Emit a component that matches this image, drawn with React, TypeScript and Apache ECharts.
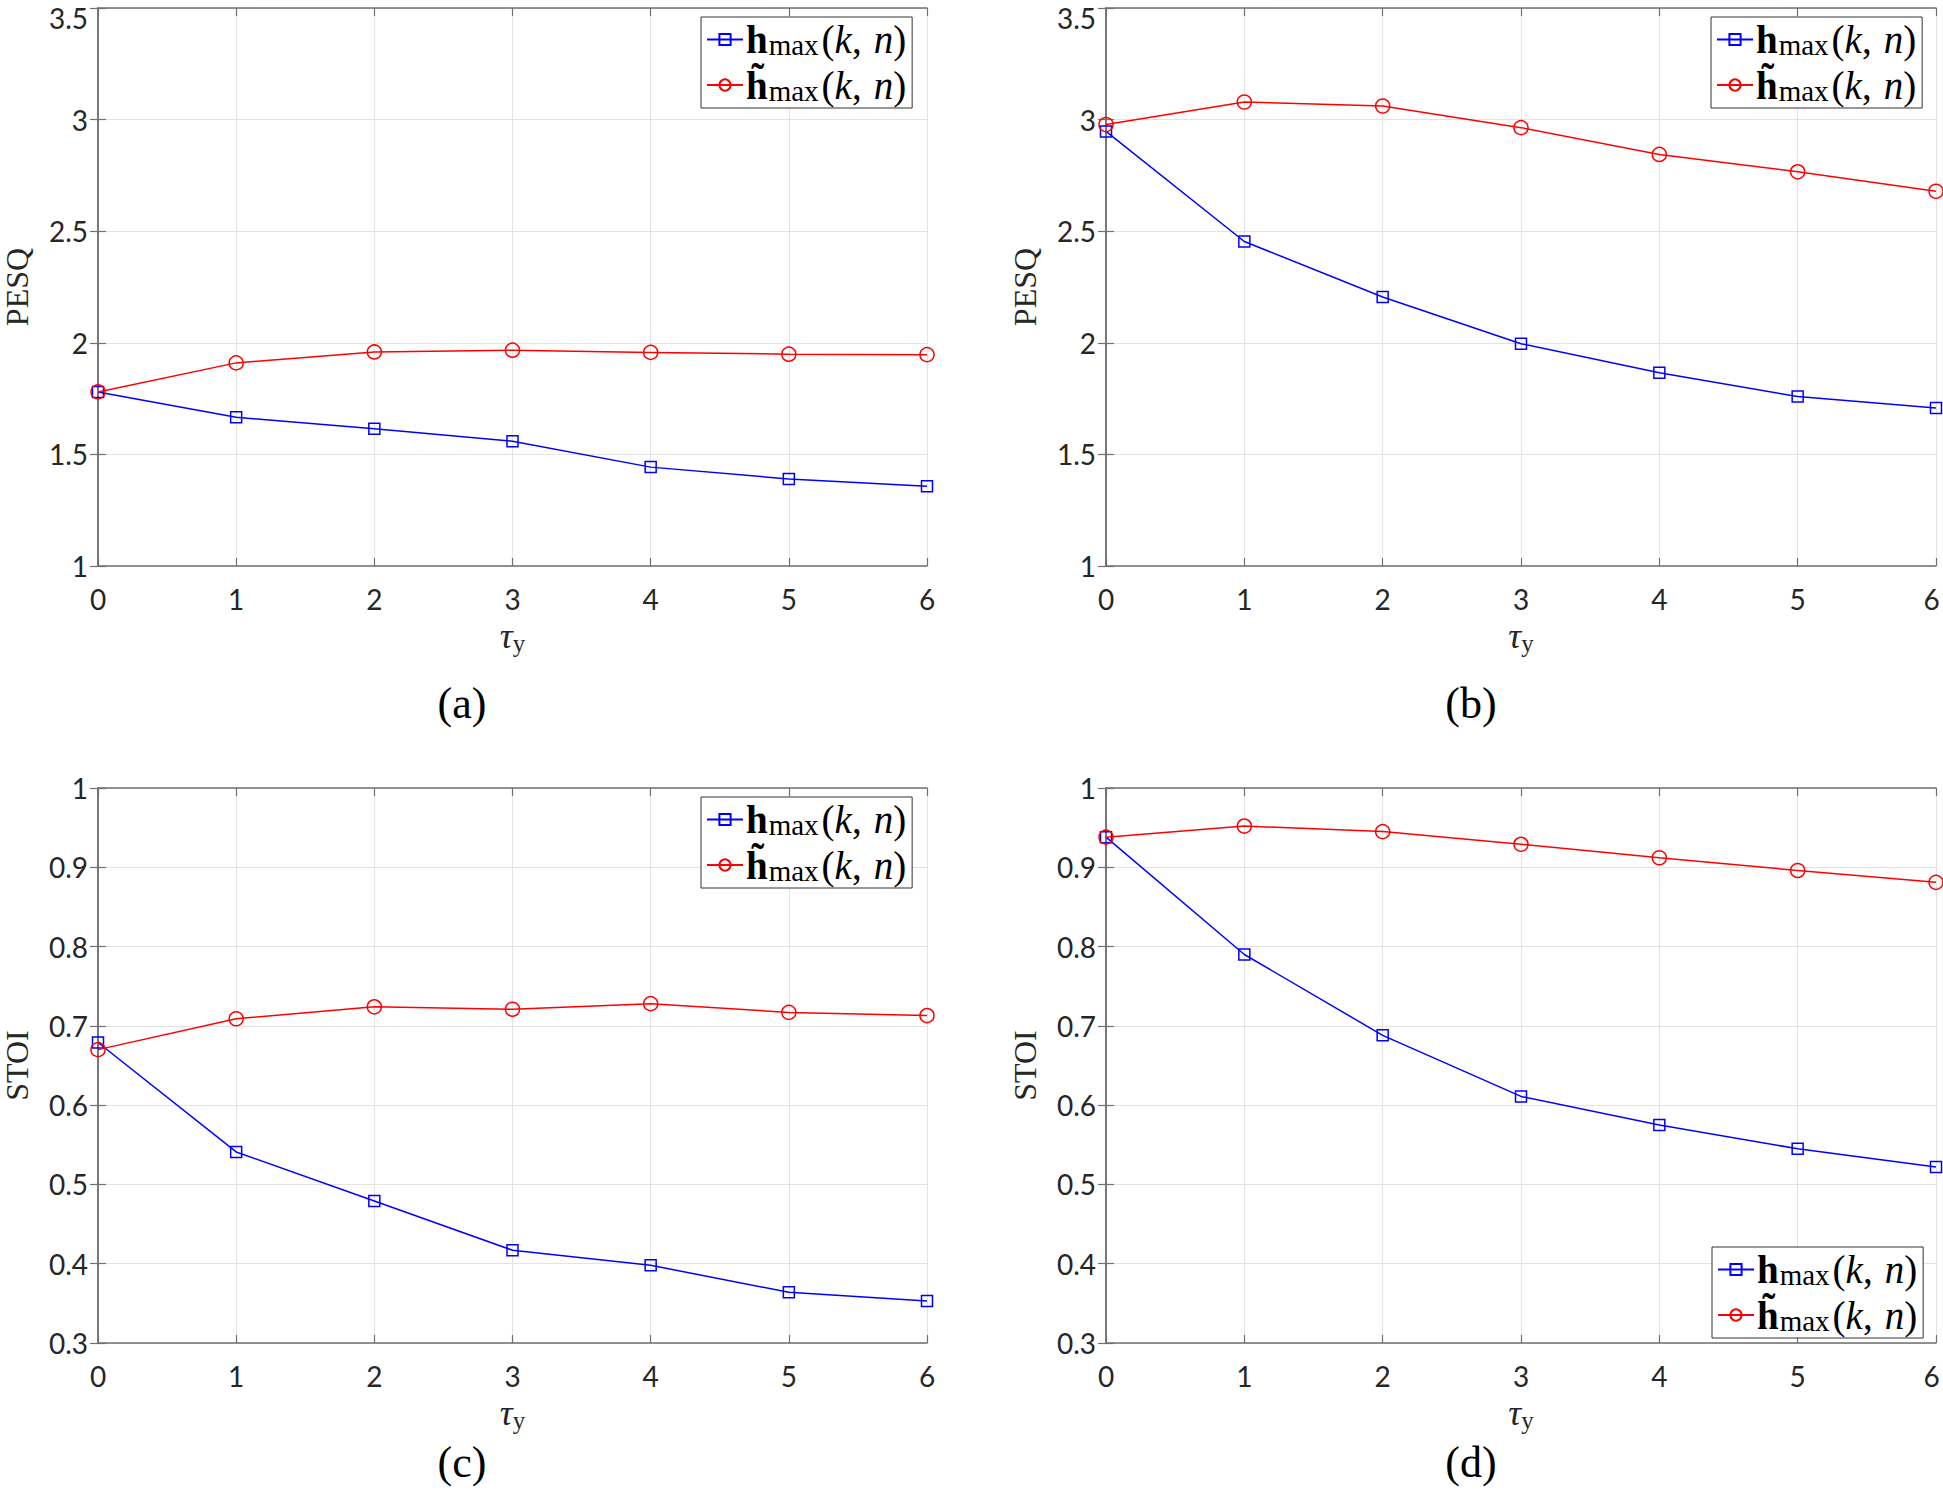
import React, { useEffect, useRef } from "react";
import * as echarts from "echarts";

// ---- data ----
const tauValues = [0, 1, 2, 3, 4, 5, 6];

const pesqA_h = [1.78, 1.666, 1.615, 1.559, 1.443, 1.39, 1.357];
const pesqA_ht = [1.78, 1.91, 1.959, 1.967, 1.957, 1.949, 1.947];

const pesqB_h = [2.947, 2.454, 2.205, 1.996, 1.866, 1.759, 1.708];
const pesqB_ht = [2.978, 3.079, 3.061, 2.964, 2.844, 2.766, 2.679];

const stoiC_h = [0.679, 0.541, 0.479, 0.417, 0.398, 0.364, 0.353];
const stoiC_ht = [0.67, 0.709, 0.724, 0.721, 0.728, 0.717, 0.713];

const stoiD_h = [0.938, 0.79, 0.688, 0.611, 0.575, 0.545, 0.522];
const stoiD_ht = [0.938, 0.952, 0.945, 0.929, 0.912, 0.896, 0.881];

const pesqRange = { min: 1, max: 3.5, interval: 0.5 };
const stoiRange = { min: 0.3, max: 1, interval: 0.1 };

const panelLabels = ["(a)", "(b)", "(c)", "(d)"];
const yNames = ["PESQ", "PESQ", "STOI", "STOI"];
const seriesNames = ["hmax", "htmax"];

// ---- layout (px) ----
const W = 1943;
const H = 1506;
const grids = [
  { left: 98, top: 8, width: 829, height: 558 },
  { left: 1106, top: 8, width: 830, height: 558 },
  { left: 98, top: 788, width: 829, height: 555 },
  { left: 1106, top: 788, width: 830, height: 555 },
];
const legendPos = [
  { left: 701, top: 17 },
  { left: 1711, top: 17 },
  { left: 701, top: 797 },
  { left: 1712, top: 1247 },
];
const captionPos = [
  [462, 703],
  [1471, 703],
  [462, 1462],
  [1471, 1462],
];

const BLUE = "#0000ff";
const RED = "#ff0000";
const AXIS = "#707070";
const TXT = "#262626";
const GRIDC = "#e3e3e3";
const SERIF = "'Liberation Serif', 'Times New Roman', serif";
const SANS = "Lato, 'Noto Sans', sans-serif";

function fmtY(v: number, isTop: boolean, max: number) {
  const s = String(Math.round(v * 10) / 10);
  if (isTop && Math.abs(v - max) < 1e-9) return "{top|" + s + "}";
  return s;
}

function fmtX(v: number, isRight: boolean) {
  const s = String(v);
  if (isRight && v === 6) return "{r|" + s + "}";
  return s;
}

function buildOption() {
  const data = [
    [pesqA_h, pesqA_ht],
    [pesqB_h, pesqB_ht],
    [stoiC_h, stoiC_ht],
    [stoiD_h, stoiD_ht],
  ];
  const ranges = [pesqRange, pesqRange, stoiRange, stoiRange];

  const xAxis: any[] = [];
  const yAxis: any[] = [];
  const series: any[] = [];
  const legend: any[] = [];
  const graphic: any[] = [];

  grids.forEach((g, i) => {
    const r = ranges[i];
    const isTop = i < 2;
    const isRight = i % 2 === 1;
    xAxis.push({
      type: "value",
      gridIndex: i,
      position: "bottom",
      min: 0,
      max: 6,
      interval: 1,
      name: "{t|τ}{s|y}",
      nameLocation: "middle",
      nameGap: 50,
      nameTextStyle: {
        rich: {
          t: { fontFamily: SERIF, fontStyle: "italic", fontSize: 36, color: TXT, lineHeight: 40 },
          s: { fontFamily: SERIF, fontSize: 25, color: TXT, lineHeight: 26, verticalAlign: "bottom" },
        },
      },
      axisLine: { show: true, lineStyle: { color: AXIS, width: 1.5 } },
      axisTick: { show: true, inside: true, length: 8, lineStyle: { color: AXIS, width: 1.2 } },
      axisLabel: {
        margin: 19,
        fontFamily: SANS,
        fontSize: 28,
        color: TXT,
        formatter: (v: number) => fmtX(v, isRight),
        rich: {
          r: { fontFamily: SANS, fontSize: 28, color: TXT, padding: [0, 9, 0, 0] },
        },
      },
      splitLine: { show: true, lineStyle: { color: GRIDC, width: 1 } },
    });
    xAxis.push({
      type: "value",
      gridIndex: i,
      position: "top",
      min: 0,
      max: 6,
      interval: 1,
      axisLine: { show: true, lineStyle: { color: AXIS, width: 1.5 } },
      axisTick: { show: true, inside: true, length: 8, lineStyle: { color: AXIS, width: 1.2 } },
      axisLabel: { show: false },
      splitLine: { show: false },
    });
    yAxis.push({
      type: "value",
      gridIndex: i,
      position: "left",
      min: r.min,
      max: r.max,
      interval: r.interval,
      name: yNames[i],
      nameLocation: "middle",
      nameGap: 65,
      nameRotate: 90,
      nameTextStyle: { fontFamily: SERIF, fontSize: 32, color: TXT },
      axisLine: { show: true, lineStyle: { color: AXIS, width: 1.5 } },
      axisTick: { show: true, inside: true, length: 8, lineStyle: { color: AXIS, width: 1.2 } },
      axisLabel: {
        margin: 10,
        fontFamily: SANS,
        fontSize: 28,
        color: TXT,
        formatter: (v: number) => fmtY(v, isTop, r.max),
        rich: {
          top: { fontFamily: SANS, fontSize: 28, color: TXT, lineHeight: 20, padding: [19, 0, 0, 0] },
        },
      },
      splitLine: { show: true, lineStyle: { color: GRIDC, width: 1 } },
    });
    yAxis.push({
      type: "value",
      gridIndex: i,
      position: "right",
      min: r.min,
      max: r.max,
      interval: r.interval,
      axisLine: { show: true, lineStyle: { color: AXIS, width: 1.5 } },
      axisTick: { show: true, inside: true, length: 8, lineStyle: { color: AXIS, width: 1.2 } },
      axisLabel: { show: false },
      splitLine: { show: false },
    });

    const [hv, htv] = data[i];
    series.push({
      type: "line",
      name: seriesNames[0],
      xAxisIndex: 2 * i,
      yAxisIndex: 2 * i,
      data: tauValues.map((t, k) => [t, hv[k]]),
      symbol: "rect",
      symbolSize: 11,
      showSymbol: true,
      lineStyle: { color: BLUE, width: 1.5 },
      itemStyle: { color: "rgba(0,0,0,0)", borderColor: BLUE, borderWidth: 1.5 },
      z: 3,
    });
    series.push({
      type: "line",
      name: seriesNames[1],
      xAxisIndex: 2 * i,
      yAxisIndex: 2 * i,
      data: tauValues.map((t, k) => [t, htv[k]]),
      symbol: "circle",
      symbolSize: 14,
      showSymbol: true,
      lineStyle: { color: RED, width: 1.5 },
      itemStyle: { color: "rgba(0,0,0,0)", borderColor: RED, borderWidth: 1.5 },
      z: 4,
    });

    legend.push({
      left: legendPos[i].left,
      top: legendPos[i].top,
      orient: "vertical",
      data: seriesNames,
      selectedMode: false,
      backgroundColor: "#ffffff",
      borderColor: "#333333",
      borderWidth: 1,
      borderRadius: 0,
      padding: [3, 6, 3, 5],
      itemGap: 6,
      itemWidth: 36,
      itemHeight: 14,
      formatter: (name: string) =>
        (name === "hmax" ? "{hb|h}" : "{hb|h\u0303}") + "{sub|max}{p|(}{i|k}{p|,}{sp| }{i|n}{p|)}",
      textStyle: {
        padding: [0, 0, 0, -2],
        rich: {
          hb: { fontFamily: SERIF, fontWeight: "bold", fontSize: 39, color: "#000", lineHeight: 40 },
          sub: { fontFamily: SERIF, fontSize: 29, color: "#000", lineHeight: 27, verticalAlign: "bottom", padding: [0, 3, 0, 1] },
          p: { fontFamily: SERIF, fontSize: 39, color: "#000", lineHeight: 40 },
          i: { fontFamily: SERIF, fontStyle: "italic", fontSize: 39, color: "#000", lineHeight: 40 },
          sp: { fontFamily: SERIF, fontSize: 39, color: "#000", lineHeight: 40, width: 12 },
        },
      },
    });

    graphic.push({
      type: "text",
      x: captionPos[i][0],
      y: captionPos[i][1],
      style: {
        text: panelLabels[i],
        fontFamily: SERIF,
        fontSize: 44,
        fill: "#000",
        align: "center",
        verticalAlign: "middle",
      },
    });
  });

  return {
    animation: false,
    backgroundColor: "#ffffff",
    grid: grids.map((g) => ({ ...g, containLabel: false, outerBoundsMode: "none" })),
    xAxis,
    yAxis,
    series,
    legend,
    graphic,
  };
}

export default function App() {
  const ref = useRef<HTMLDivElement>(null);
  useEffect(() => {
    if (!ref.current) return;
    const chart = echarts.init(ref.current, undefined, { renderer: "svg" });
    chart.setOption(buildOption() as any);
    return () => chart.dispose();
  }, []);
  return (
    <div
      ref={ref}
      style={{ position: "absolute", left: 0, top: 0, width: W, height: H, background: "#fff" }}
    />
  );
}
